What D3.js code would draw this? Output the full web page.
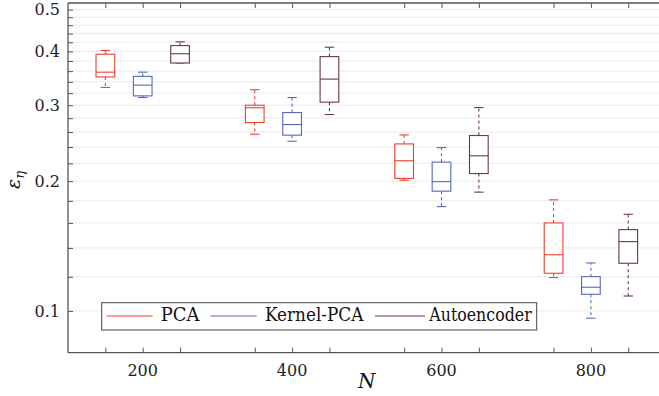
<!DOCTYPE html>
<html><head><meta charset="utf-8">
<script src="https://cdn.jsdelivr.net/npm/d3@7"></script>
<style>
html,body{margin:0;padding:0;background:#fff;}
svg{display:block;}
</style></head>
<body>
<svg id="chart" width="659" height="396"></svg>
<script>
// ---- data ----
const categories = ["200", "400", "600", "800"];
const seriesNames = ["PCA", "Kernel-PCA", "Autoencoder"];
// each row: [lower whisker, q1, median, q3, upper whisker]
const pcaStats = [
  [0.330, 0.349, 0.358, 0.394, 0.402],
  [0.257, 0.2735, 0.296, 0.300, 0.326],
  [0.201, 0.203, 0.223, 0.244, 0.256],
  [0.1195, 0.1223, 0.135, 0.160, 0.181]
];
const kpcaStats = [
  [0.3126, 0.3154, 0.334, 0.350, 0.358],
  [0.2476, 0.2557, 0.2706, 0.2885, 0.3126],
  [0.1746, 0.1896, 0.1995, 0.2214, 0.2393],
  [0.0962, 0.1093, 0.1135, 0.1201, 0.1292]
];
const aeStats = [
  [0.376, 0.376, 0.395, 0.4126, 0.421],
  [0.2855, 0.305, 0.345, 0.389, 0.409],
  [0.1886, 0.2083, 0.229, 0.2552, 0.2963],
  [0.1083, 0.129, 0.1448, 0.1544, 0.1676]
];
const yTickLabels = [0.1, 0.2, 0.3, 0.4, 0.5];
const yMinorTicks = [0.1,0.12,0.14,0.16,0.18,0.2,0.22,0.24,0.26,0.28,0.3,0.32,0.34,0.36,0.38,0.4,0.42,0.44,0.46,0.48,0.5];

const colors = ["#f0402f", "#5569b8", "#6b3652"];
const allStats = [pcaStats, kpcaStats, aeStats];

// ---- layout ----
const svg = d3.select("#chart");
const mLeft = 68, mTop = 3, mBottom = 352.7, mRightEnd = 665.6;
const x = d3.scaleLinear().domain([0, 16]).range([mLeft, mRightEnd]);
const y = d3.scaleLog().domain([0.08, 0.518]).range([mBottom, mTop]);
const font = "DejaVu Serif";
const axisColor = "#555";

// grid
svg.append("g").selectAll("line").data(yMinorTicks).join("line")
  .attr("x1", mLeft).attr("x2", 659)
  .attr("y1", d => y(d)).attr("y2", d => y(d))
  .attr("stroke", "#ebebeb").attr("stroke-width", 1);

// positions of boxes
const positions = [];
categories.forEach((c, g) => { for (let s = 0; s < 3; s++) positions.push(4 * g + 1 + s); });
const catLabelAt = {};
categories.forEach((c, g) => catLabelAt[4 * g + 2] = c);

// bottom axis
const xAxis = d3.axisBottom(x).tickValues(positions)
  .tickSize(-5).tickPadding(0).tickFormat(() => "");
const gx = svg.append("g").attr("transform", `translate(0,${mBottom})`).call(xAxis);
gx.select(".domain").attr("d", `M${mLeft},0H${mRightEnd}`);
gx.selectAll("line").attr("stroke", axisColor);
gx.select(".domain").attr("stroke", axisColor).attr("stroke-width", 1.3);
gx.selectAll("text").remove();
svg.append("g").selectAll("text").data(Object.keys(catLabelAt)).join("text")
  .attr("x", d => x(+d)).attr("y", 375.5)
  .attr("text-anchor", "middle").style("font-family", font).attr("font-size", 16)
  .attr("fill", "#222").text(d => catLabelAt[d]);

// top axis
const xTop = d3.axisTop(x).tickValues(positions).tickSize(-5).tickFormat(() => "");
const gt = svg.append("g").attr("transform", `translate(0,${mTop})`).call(xTop);
gt.select(".domain").attr("d", `M${mLeft},0H${mRightEnd}`).attr("stroke", axisColor).attr("stroke-width", 1.3);
gt.selectAll("line").attr("stroke", axisColor);
gt.selectAll("text").remove();

// left axis
const yAxis = d3.axisLeft(y).tickValues(yMinorTicks).tickSize(-5)
  .tickFormat(d => yTickLabels.includes(d) ? d3.format(".1f")(d) : "").tickPadding(8);
const gy = svg.append("g").attr("transform", `translate(${mLeft},0)`).call(yAxis);
gy.select(".domain").attr("d", `M0,${mBottom}V${mTop}`).attr("stroke", axisColor).attr("stroke-width", 1.3);
gy.selectAll("line").attr("stroke", axisColor);
gy.selectAll("text").style("font-family", font).attr("font-size", 16).attr("fill", "#222")
  .attr("x", -8);

// boxes
const bw = 0.5, cw = 0.25;
allStats.forEach((stats, s) => {
  const g = svg.append("g").attr("stroke", colors[s]).attr("fill", "none").attr("stroke-width", 1.1);
  stats.forEach((d, i) => {
    const p = 4 * i + 1 + s;
    const [lo, q1, med, q3, hi] = d;
    g.append("line").attr("x1", x(p)).attr("x2", x(p)).attr("y1", y(q3)).attr("y2", y(hi))
      .attr("stroke-dasharray", "3,3");
    g.append("line").attr("x1", x(p)).attr("x2", x(p)).attr("y1", y(q1)).attr("y2", y(lo))
      .attr("stroke-dasharray", "3,3");
    g.append("line").attr("x1", x(p - cw / 2)).attr("x2", x(p + cw / 2)).attr("y1", y(hi)).attr("y2", y(hi));
    g.append("line").attr("x1", x(p - cw / 2)).attr("x2", x(p + cw / 2)).attr("y1", y(lo)).attr("y2", y(lo));
    g.append("rect").attr("x", x(p - bw / 2)).attr("width", x(p + bw / 2) - x(p - bw / 2))
      .attr("y", y(q3)).attr("height", y(q1) - y(q3)).attr("fill", "#fff");
    g.append("line").attr("x1", x(p - bw / 2)).attr("x2", x(p + bw / 2)).attr("y1", y(med)).attr("y2", y(med));
  });
});

// legend
const leg = svg.append("g");
leg.append("rect").attr("x", 101.7).attr("y", 302.7).attr("width", 435).attr("height", 27.3)
  .attr("fill", "#fff").attr("stroke", "#444").attr("stroke-width", 1);
const legItems = [
  {lx1: 106.7, lx2: 152.7, tx: 160.7, w: 38.6},
  {lx1: 210.7, lx2: 256.7, tx: 265, w: 98.3},
  {lx1: 375, lx2: 425, tx: 429.3, w: 102.4}
];
seriesNames.forEach((n, i) => {
  leg.append("line").attr("x1", legItems[i].lx1).attr("x2", legItems[i].lx2)
    .attr("y1", 316).attr("y2", 316).attr("stroke", colors[i]).attr("stroke-width", 1.1);
  leg.append("text").attr("x", legItems[i].tx).attr("y", 321)
    .style("font-family", font).attr("font-size", 18).attr("fill", "#111")
    .attr("textLength", legItems[i].w).attr("lengthAdjust", "spacingAndGlyphs").text(n);
});

// axis labels
svg.append("text").attr("x", x(8)).attr("y", 388).attr("text-anchor", "middle")
  .style("font-family", font).attr("font-size", 20).attr("font-style", "italic").attr("fill", "#111").text("N");
const yl = svg.append("text").attr("transform", "translate(20,180) rotate(-90)")
  .attr("text-anchor", "middle").style("font-family", font).attr("font-style", "italic")
  .attr("font-size", 19).attr("fill", "#111");
yl.append("tspan").text("ε");
yl.append("tspan").attr("font-size", 13).attr("dy", 4).text("η");
</script>
</body></html>
